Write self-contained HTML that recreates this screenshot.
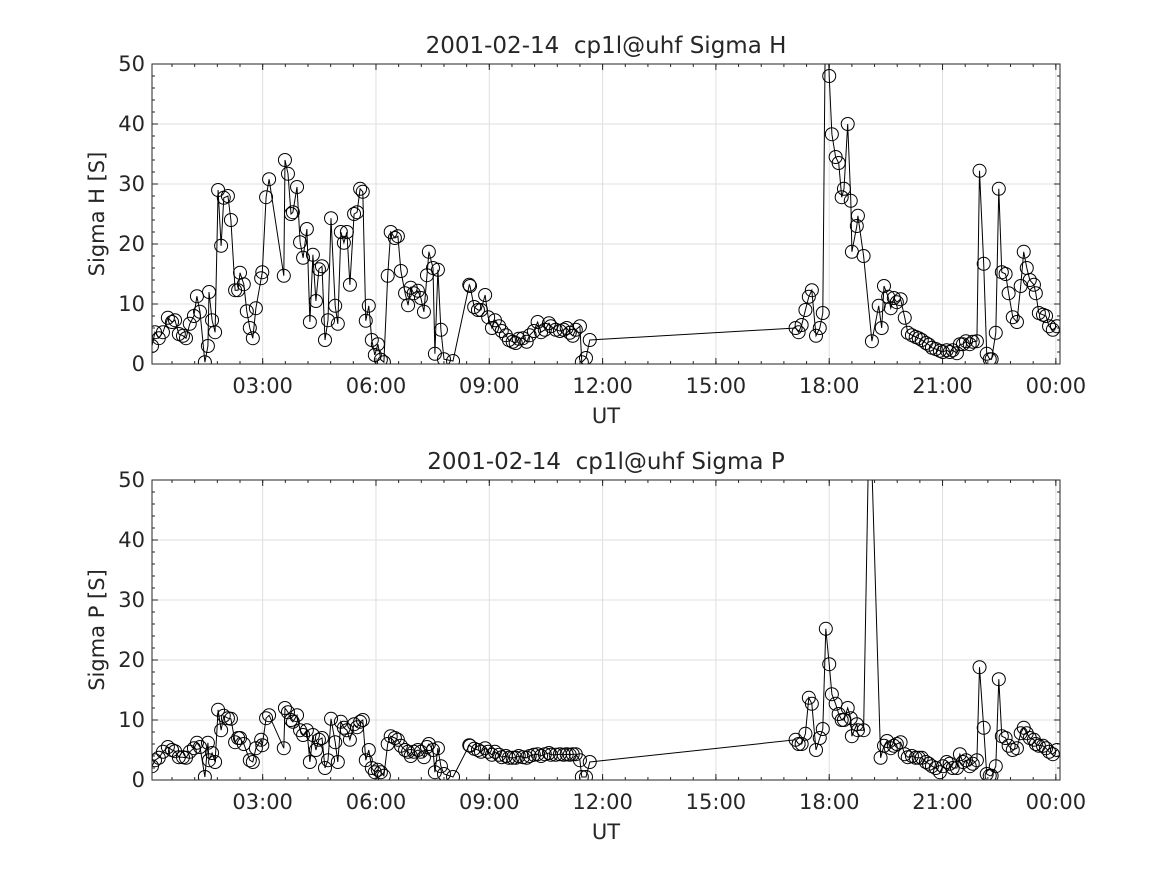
<!DOCTYPE html>
<html><head><meta charset="utf-8"><style>
body{margin:0;background:#fff;}
svg text{font-family:"DejaVu Sans","Liberation Sans",sans-serif;fill:#262626;white-space:pre;}
</style></head><body>
<svg id="fig" width="1167" height="875" viewBox="0 0 1167 875" xmlns="http://www.w3.org/2000/svg">
<defs>
<clipPath id="c1"><rect x="152" y="64" width="908" height="300"/></clipPath>
<clipPath id="c2"><rect x="152" y="480" width="908" height="300"/></clipPath>
</defs>
</svg>
<script>
const xTicks=[3,6,9,12,15,18,21,24];
const xTickLabels=["03:00","06:00","09:00","12:00","15:00","18:00","21:00","00:00"];
const yTicks=[0,10,20,30,40,50];
const tH=[0.07,0.15,0.25,0.36,0.49,0.60,0.68,0.78,0.89,0.97,1.07,1.18,1.26,1.34,1.47,1.55,1.58,1.66,1.74,1.82,1.90,1.97,2.08,2.16,2.27,2.35,2.40,2.50,2.58,2.66,2.74,2.82,2.96,2.99,3.09,3.17,3.56,3.59,3.67,3.75,3.80,3.91,3.99,4.07,4.17,4.25,4.33,4.41,4.49,4.57,4.65,4.73,4.81,4.92,4.99,5.07,5.15,5.23,5.31,5.42,5.50,5.58,5.65,5.73,5.81,5.89,5.97,6.05,6.13,6.21,6.31,6.39,6.50,6.58,6.66,6.77,6.85,6.92,7.00,7.11,7.19,7.27,7.35,7.40,7.51,7.56,7.64,7.72,7.80,8.04,8.47,8.49,8.60,8.70,8.78,8.89,8.97,9.07,9.15,9.26,9.33,9.44,9.52,9.62,9.70,9.78,9.89,9.99,10.07,10.18,10.28,10.37,10.47,10.58,10.63,10.76,10.87,10.97,11.05,11.13,11.21,11.29,11.40,11.45,11.56,11.66,17.11,17.19,17.27,17.37,17.46,17.54,17.65,17.75,17.83,17.91,18.00,18.07,18.17,18.25,18.33,18.39,18.49,18.57,18.60,18.73,18.76,18.91,19.13,19.31,19.39,19.45,19.56,19.63,19.71,19.79,19.89,20.00,20.08,20.19,20.29,20.37,20.45,20.56,20.64,20.72,20.82,20.93,21.01,21.11,21.19,21.27,21.38,21.46,21.54,21.62,21.72,21.80,21.91,21.98,22.09,22.17,22.25,22.30,22.41,22.49,22.57,22.67,22.75,22.86,22.97,23.07,23.15,23.23,23.31,23.42,23.47,23.55,23.66,23.74,23.82,23.92,24.03];
const sigmaH=[3,5.3,4.3,5.3,7.7,7,7.3,5,4.7,4.3,6.7,8,11.3,8.7,0.3,3,12,7.3,5.3,29,19.7,27.7,28,24,12.3,12.3,15.2,13.3,8.8,6,4.3,9.3,14.3,15.3,27.8,30.8,14.7,34,31.7,25,25.3,29.5,20.3,17.7,22.5,7,18.2,10.5,15.8,16.3,4,7.3,24.3,9.7,6.7,22,20.2,22,13.2,25,25.3,29.2,28.7,7.2,9.7,4,1.5,3.3,0.7,0.3,14.7,22,21,21.3,15.5,11.8,9.8,12.7,11.8,12.2,11,8.7,14.8,18.7,16,1.7,15.7,5.7,0.8,0.5,13.2,13,9.5,9,9,11.5,7.8,6,7.3,6.3,5.5,4.8,4,3.7,3.5,4.2,4.3,3.7,4.8,5.5,7,5.3,5.7,6.8,6.3,5.7,5.5,5.7,6,5.2,4.7,5.7,6.3,0.3,1,4,6,5.3,6.5,9,11.2,12.3,4.7,6,8.5,65,48,38.3,34.5,33.5,27.8,29.2,40,27.2,18.7,23,24.7,18,3.8,9.7,6,13,11.2,9.3,11,10.3,10.8,7.7,5.2,4.8,4.5,4.3,4,3.5,3.2,2.7,2.5,2.2,2,2.3,2,2.3,1.8,3.3,3.3,3.8,3.3,3.7,3.8,32.2,16.7,1.7,0.8,0.8,5.2,29.2,15.3,15,11.8,7.8,7,13,18.7,16,14,13.2,11.8,8.5,8.2,8,6.3,5.7,6.3];
const tP=[0.07,0.15,0.25,0.36,0.49,0.60,0.68,0.78,0.89,0.97,1.07,1.18,1.26,1.34,1.47,1.55,1.58,1.66,1.74,1.82,1.90,1.97,2.08,2.16,2.27,2.35,2.40,2.50,2.66,2.74,2.82,2.96,2.99,3.09,3.17,3.56,3.59,3.67,3.75,3.80,3.91,3.99,4.07,4.17,4.25,4.33,4.41,4.49,4.57,4.65,4.73,4.81,4.92,4.99,5.07,5.15,5.23,5.31,5.42,5.50,5.58,5.65,5.73,5.81,5.89,5.97,6.05,6.13,6.21,6.31,6.39,6.50,6.58,6.66,6.77,6.85,6.92,7.00,7.11,7.19,7.27,7.35,7.40,7.51,7.56,7.64,7.72,7.80,8.04,8.47,8.49,8.60,8.70,8.78,8.89,8.97,9.07,9.15,9.26,9.33,9.44,9.52,9.62,9.70,9.78,9.89,9.99,10.07,10.18,10.28,10.37,10.47,10.58,10.63,10.76,10.87,10.97,11.05,11.13,11.21,11.29,11.40,11.45,11.56,11.66,17.11,17.19,17.27,17.37,17.46,17.54,17.65,17.75,17.83,17.91,18.00,18.07,18.17,18.25,18.33,18.39,18.49,18.57,18.60,18.73,18.76,18.91,19.07,19.36,19.45,19.53,19.63,19.71,19.79,19.89,20.00,20.08,20.19,20.29,20.37,20.45,20.56,20.64,20.72,20.82,20.93,21.01,21.11,21.19,21.27,21.38,21.46,21.54,21.62,21.72,21.80,21.91,21.98,22.09,22.17,22.25,22.30,22.41,22.49,22.57,22.67,22.75,22.86,22.97,23.07,23.15,23.23,23.31,23.42,23.47,23.55,23.66,23.74,23.82,23.92,24.03];
const sigmaP=[2.3,3.3,3.7,4.7,5.5,5,4.8,3.8,3.8,3.7,4.7,5.3,6.2,5.5,0.5,6.2,3.3,4.5,3,11.7,8.3,10.7,10.3,10.2,6.3,7,7,6,3.3,3,5.3,6.7,5.8,10.3,10.8,5.3,12,11.3,10,9.7,10.8,8.3,7.5,8.3,3,7.5,5,6.7,7,2,3.3,10.2,6.3,3,9.7,8.7,8.3,6.7,9.3,8.8,9.7,10,3.3,5,2,1.3,1.7,1.3,0.7,6,7.3,7,6.7,5.7,5,4.7,4,4.7,5,4.7,3.8,5.5,6,5,1.3,5.3,2.3,1,0.5,5.8,5.7,5.2,5,4.7,5.3,4.7,4.2,4.7,4.2,3.8,4,3.7,3.7,3.7,4,3.8,3.7,4,4.2,4.3,4,4.3,4.5,4.2,4.2,4.3,4.2,4.3,4.2,4.3,4.3,3.3,0.5,0.5,3,6.7,6,6,7.7,13.7,12.7,5,7,8.5,25.2,19.3,14.3,12.7,11,10,10,12,10.3,7.3,9.3,8.3,8.3,65,3.7,5.7,6.5,5.3,5.7,6,6.3,4.3,3.8,4,3.7,3.7,3.7,3,2.7,2.3,2,1.3,2.3,3,2.7,2,2,4.3,3,3.3,2.3,2.7,3.3,18.8,8.7,1,0.7,0.7,2.3,16.8,7.3,7,5.7,5,5.3,7.8,8.7,7.8,7,6.7,6,5.7,5.7,5.3,4.7,4.3,5];

const NS="http://www.w3.org/2000/svg";
const svg=document.getElementById('fig');
function mk(tag,attrs,parent){const e=document.createElementNS(NS,tag);for(const k in attrs)e.setAttribute(k,attrs[k]);(parent||svg).appendChild(e);return e;}
const L=152,R=1060,X0=0.07,X1=24.11;
function xs(h){return L+(h-X0)*(R-L)/(X1-X0);}

function panel(top,title,ylabel,t,v,clip,key){
  const B=top+300;
  const ys=val=>B-val*300/50;
  const g=mk('g',{});
  
  
  mk('rect',{x:L,y:top,width:R-L,height:300,fill:'#fff'},g);
  xTicks.forEach(h=>{const x=xs(h);if(x<R-1){const l=mk('line',{x1:x,x2:x,y1:top,y2:B,stroke:'#dfdfdf','stroke-width':1},g);}});
  yTicks.forEach(y=>{const l=mk('line',{x1:L,x2:R,y1:ys(y),y2:ys(y),stroke:'#dfdfdf','stroke-width':1},g);});
  for(let h=0;h<=24.2;h+=0.6){const x=xs(h);if(x<L||x>R)continue;mk('line',{x1:x,x2:x,y1:B,y2:B-3,stroke:'#262626'},g);mk('line',{x1:x,x2:x,y1:top,y2:top+3,stroke:'#262626'},g);}
  for(let y=0;y<=50;y+=2){mk('line',{x1:L,x2:L+3,y1:ys(y),y2:ys(y),stroke:'#262626'},g);mk('line',{x1:R,x2:R-3,y1:ys(y),y2:ys(y),stroke:'#262626'},g);}
  xTicks.forEach((h,i)=>{const x=xs(h);
    mk('line',{x1:x,x2:x,y1:B,y2:B-6,stroke:'#262626'},g);mk('line',{x1:x,x2:x,y1:top,y2:top+6,stroke:'#262626'},g);
    const tx=mk('text',{x:x,y:B+29,'font-size':21,'text-anchor':'middle'},g);tx.textContent=xTickLabels[i];
    });
  yTicks.forEach(y=>{mk('line',{x1:L,x2:L+6,y1:ys(y),y2:ys(y),stroke:'#262626'},g);mk('line',{x1:R,x2:R-6,y1:ys(y),y2:ys(y),stroke:'#262626'},g);
    const tx=mk('text',{x:L-7,y:ys(y)+7,'font-size':21,'text-anchor':'end'},g);tx.textContent=y;
    });
  const d=t.map((h,i)=>(i?'L':'M')+xs(h).toFixed(1)+' '+ys(v[i]).toFixed(1)).join(' ');
  const p=mk('path',{d:d,fill:'none',stroke:'#000','stroke-width':1,'clip-path':'url(#'+clip+')'},g);
  
  t.forEach((h,i)=>{const c=mk('circle',{cx:xs(h),cy:ys(v[i]),r:6.5,fill:'none',stroke:'#000','stroke-width':1,'clip-path':'url(#'+clip+')'},g);
    });
  const fr=mk('rect',{x:L,y:top,width:R-L,height:300,fill:'none',stroke:'#262626','stroke-width':1},g);
  
  const ti=mk('text',{x:(L+R)/2,y:top-11,'font-size':23,'text-anchor':'middle'},g);ti.textContent=title;
  
  const xl=mk('text',{x:(L+R)/2,y:B+59,'font-size':21,'text-anchor':'middle'},g);xl.textContent='UT';
  
  const yl=mk('text',{x:0,y:0,'font-size':21,'text-anchor':'middle',transform:'translate(104,'+(top+150)+') rotate(-90)'},g);yl.textContent=ylabel;
  
}
panel(64,'2001-02-14  cp1l@uhf Sigma H','Sigma H [S]',tH,sigmaH,'c1','sigma-h');
panel(480,'2001-02-14  cp1l@uhf Sigma P','Sigma P [S]',tP,sigmaP,'c2','sigma-p');
</script>
</body></html>
